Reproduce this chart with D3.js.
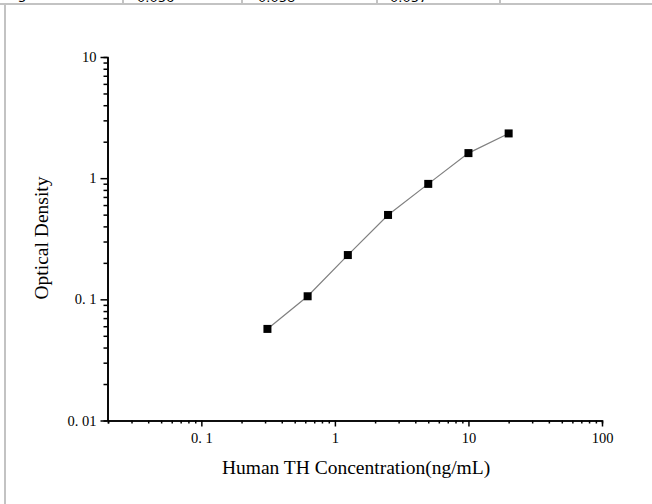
<!DOCTYPE html>
<html>
<head>
<meta charset="utf-8">
<script src="https://cdn.jsdelivr.net/npm/d3@7"></script>
<style>
  html, body { margin: 0; padding: 0; background: #fff; }
  svg { display: block; }
  .tick text { font-family: "Liberation Serif", "Times New Roman", serif; }
</style>
</head>
<body>
<svg id="chart" width="652" height="504"></svg>
<script>
// ---- data ----
const concentrations = [0.3125, 0.625, 1.25, 2.5, 5, 10, 20];
const opticalDensity = [0.057, 0.106, 0.232, 0.497, 0.897, 1.61, 2.34];
const xMajorTicks = [0.1, 1, 10, 100];
const xMajorLabels = ["0. 1", "1", "10", "100"];
const yMajorTicks = [0.01, 0.1, 1, 10];
const yMajorLabels = ["0. 01", "0. 1", "1", "10"];
const tableCellTexts = ["5", "0.056", "0.058", "0.057"];

const svg = d3.select("#chart");
const serif = '"Liberation Serif", "Times New Roman", serif';

// ---- page frame / table fragment ----
const gray = "#c3c3c3";
svg.append("line").attr("x1", 0).attr("x2", 652).attr("y1", 4).attr("y2", 4)
  .attr("stroke", gray).attr("stroke-width", 2);
svg.append("line").attr("x1", 5).attr("x2", 5).attr("y1", 4).attr("y2", 504)
  .attr("stroke", gray).attr("stroke-width", 2);
[123, 242, 377, 500].forEach(xv => {
  svg.append("line").attr("x1", xv).attr("x2", xv).attr("y1", -2).attr("y2", 4)
    .attr("stroke", gray).attr("stroke-width", 2);
});
const cellTextX = [18, 137, 258, 390];
tableCellTexts.forEach((t, i) => {
  svg.append("text").attr("x", cellTextX[i]).attr("y", 1.5)
    .attr("font-family", '"DejaVu Sans", sans-serif').attr("font-size", 13)
    .attr("fill", "#000").text(t);
});

// ---- scales ----
const x = d3.scaleLog().domain([0.02, 100]).range([108, 602]);
const y = d3.scaleLog().domain([0.01, 10]).range([420.5, 57]);

function minorTicks(lo, hi) {
  const out = [];
  for (let e = Math.floor(Math.log10(lo)); e <= Math.ceil(Math.log10(hi)); e++) {
    for (let m = 2; m <= 9; m++) {
      const v = m * Math.pow(10, e);
      if (v >= lo * 0.999 && v <= hi * 1.001) out.push(v);
    }
  }
  return out;
}

// ---- x axis ----
const xMinor = d3.axisBottom(x).tickValues(minorTicks(0.02, 100)).tickSize(3).tickFormat("");
const xMajor = d3.axisBottom(x).tickValues(xMajorTicks).tickSize(6).tickSizeOuter(0)
  .tickFormat((d, i) => xMajorLabels[i]);
const gxm = svg.append("g").attr("transform", "translate(0,420.5)").call(xMinor);
const gx = svg.append("g").attr("transform", "translate(0,420.5)").call(xMajor);
[gxm, gx].forEach(g => {
  g.select(".domain").attr("stroke", "#000").attr("stroke-width", 1.6);
  g.selectAll(".tick line").attr("stroke", "#000").attr("stroke-width", 1.5);
});
gx.selectAll(".tick text").attr("font-size", 14.5).attr("fill", "#000").attr("dy", "0.9em");

// ---- y axis ----
const yMinor = d3.axisLeft(y).tickValues(minorTicks(0.01, 10)).tickSize(4).tickFormat("");
const yMajor = d3.axisLeft(y).tickValues(yMajorTicks).tickSize(7).tickSizeOuter(0)
  .tickFormat((d, i) => yMajorLabels[i]);
const gym = svg.append("g").attr("transform", "translate(107.5,0)").call(yMinor);
const gy = svg.append("g").attr("transform", "translate(107.5,0)").call(yMajor);
[gym, gy].forEach(g => {
  g.select(".domain").attr("stroke", "#000").attr("stroke-width", 1.6);
  g.selectAll(".tick line").attr("stroke", "#000").attr("stroke-width", 1.5);
});
gy.selectAll(".tick text").attr("font-size", 14.5).attr("fill", "#000").attr("x", -11);

// ---- axis titles ----
svg.append("text").attr("x", 356).attr("y", 474).attr("text-anchor", "middle")
  .attr("font-family", serif).attr("font-size", 19.5).attr("fill", "#000")
  .text("Human TH Concentration(ng/mL)");
svg.append("text").attr("transform", "translate(48,238) rotate(-90)")
  .attr("text-anchor", "middle")
  .attr("font-family", serif).attr("font-size", 19.5).attr("fill", "#000")
  .text("Optical Density");

// ---- data line and markers ----
const pts = concentrations.map((c, i) => [c, opticalDensity[i]]);
svg.append("path").datum(pts)
  .attr("d", d3.line().x(d => x(d[0])).y(d => y(d[1])))
  .attr("fill", "none").attr("stroke", "#808080").attr("stroke-width", 1.2);
svg.selectAll("rect.pt").data(pts).enter().append("rect")
  .attr("class", "pt")
  .attr("x", d => x(d[0]) - 4).attr("y", d => y(d[1]) - 4)
  .attr("width", 8).attr("height", 8).attr("fill", "#000");
</script>
</body>
</html>
